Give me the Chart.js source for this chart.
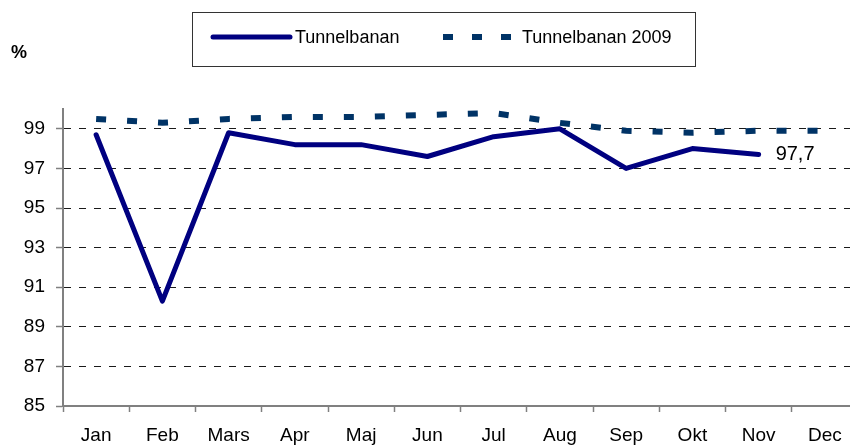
<!DOCTYPE html>
<html><head><meta charset="utf-8">
<script src="https://cdn.jsdelivr.net/npm/chart.js@4"></script>
<style>html,body{margin:0;padding:0;overflow:hidden;background:#fff;width:850px;height:446px}canvas{display:block}</style>
</head><body>
<canvas id="c" width="858" height="446"></canvas>
<script>
const categories = ['Jan','Feb','Mars','Apr','Maj','Jun','Jul','Aug','Sep','Okt','Nov','Dec'];
const tunnelbanan = [98.7, 90.3, 98.8, 98.2, 98.2, 97.6, 98.6, 99.0, 97.0, 98.0, 97.7, null];
const tunnelbanan2009 = [99.5, 99.3, 99.5, 99.6, 99.6, 99.7, 99.8, 99.3, 98.9, 98.8, 98.9, 98.9];
const yTickValues = [85, 87, 89, 91, 93, 95, 97, 99];
const seriesLabels = ['Tunnelbanan', 'Tunnelbanan 2009'];
const unitLabel = '%';

const FONT = '"Liberation Sans", Arial, sans-serif';

const extras = {
  id: 'extras',
  afterDraw(chart) {
    const ctx = chart.ctx;
    ctx.save();
    // unit label
    ctx.font = 'bold 18px ' + FONT;
    ctx.fillStyle = '#000';
    ctx.textAlign = 'center';
    ctx.textBaseline = 'middle';
    ctx.fillText(unitLabel, 19, 53);

    // legend box
    ctx.strokeStyle = '#333';
    ctx.lineWidth = 1;
    ctx.strokeRect(192.5, 12.5, 503, 54);
    const ds = chart.data.datasets;
    const items = [{x0: 213, x1: 290, tx: 295}, {x0: 443, x1: 511, tx: 522}];
    items.forEach((it, i) => {
      const d = ds[i];
      ctx.beginPath();
      ctx.strokeStyle = d.borderColor;
      ctx.lineWidth = d.borderWidth;
      ctx.lineCap = d.borderCapStyle || 'butt';
      ctx.setLineDash(i === 1 ? [10, 19] : []);
      ctx.moveTo(it.x0, 37);
      ctx.lineTo(it.x1, 37);
      ctx.stroke();
      ctx.setLineDash([]);
      ctx.font = '18px ' + FONT;
      ctx.fillStyle = '#000';
      ctx.textAlign = 'left';
      ctx.textBaseline = 'middle';
      ctx.fillText(d.label, it.tx, 38);
    });

    // value label at last point of first series
    const meta = chart.getDatasetMeta(0);
    let last = -1;
    tunnelbanan.forEach((v, i) => { if (v !== null) last = i; });
    const pt = meta.data[last];
    ctx.font = '20px ' + FONT;
    ctx.fillStyle = '#000';
    ctx.textAlign = 'left';
    ctx.textBaseline = 'middle';
    ctx.fillText(tunnelbanan[last].toFixed(1).replace('.', ','), pt.x + 17, pt.y);
    ctx.restore();
  }
};

new Chart(document.getElementById('c'), {
  type: 'line',
  data: {
    labels: categories,
    datasets: [
      {
        label: seriesLabels[0],
        data: tunnelbanan,
        borderColor: '#000080',
        backgroundColor: '#000080',
        borderWidth: 5,
        borderCapStyle: 'round',
        borderJoinStyle: 'round',
        pointRadius: 0,
        tension: 0,
        spanGaps: false,
        order: 1
      },
      {
        label: seriesLabels[1],
        data: tunnelbanan2009,
        borderColor: '#003366',
        backgroundColor: '#003366',
        borderWidth: 6,
        borderDash: [10, 21],
        borderCapStyle: 'butt',
        pointRadius: 0,
        tension: 0,
        order: 2
      }
    ]
  },
  options: {
    responsive: false,
    animation: false,
    events: [],
    layout: { padding: { top: 109, left: 0, right: 0, bottom: 0 } },
    plugins: { legend: { display: false }, tooltip: { enabled: false } },
    scales: {
      x: {
        offset: true,
        grid: {
          offset: true,
          drawOnChartArea: false,
          drawTicks: true,
          tickLength: 6,
          tickColor: '#808080',
          tickWidth: 1.5
        },
        border: { display: true, color: '#808080', width: 2 },
        ticks: {
          color: '#000',
          font: { family: FONT, size: 19 },
          padding: 12,
          maxRotation: 0,
          autoSkip: false
        },
        afterFit(scale) { scale.height = 40; }
      },
      y: {
        min: 85,
        max: 100,
        afterBuildTicks(scale) {
          scale.ticks = yTickValues.map(v => ({ value: v }));
        },
        grid: {
          color: (c) => (c.tick && c.tick.value === 85) ? 'rgba(0,0,0,0)' : '#1a1a1a',
          lineWidth: 1,
          drawTicks: true,
          tickLength: 7,
          tickColor: '#808080',
          tickWidth: 1.5,
          tickBorderDash: []
        },
        border: { display: true, color: '#808080', width: 2, dash: [7, 8] },
        ticks: {
          color: '#000',
          font: { family: FONT, size: 19 },
          padding: 11
        },
        afterFit(scale) { scale.width = 63; }
      }
    }
  },
  plugins: [extras]
});
</script>
</body></html>
